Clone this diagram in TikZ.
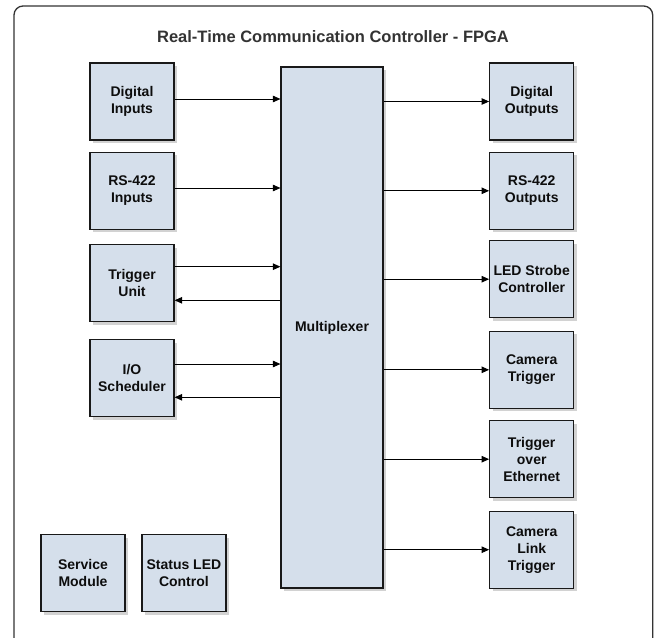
\documentclass[tikz,border=0pt]{standalone}
\usepackage{fontspec}
\setmainfont{Liberation Sans}
\usetikzlibrary{arrows.meta,shadows}

\definecolor{boxfill}{RGB}{213,223,235}
\definecolor{frameline}{RGB}{51,51,51}
\definecolor{titletext}{RGB}{51,51,51}

\tikzset{
  block/.style={draw=black!90, line width=1.2pt, fill=boxfill,
    drop shadow={shadow xshift=3pt, shadow yshift=-3pt, fill=black!35},
    align=center, inner sep=1pt, text=black!95,
    font=\bfseries\fontsize{14}{17}\selectfont},
  unit/.style={block, minimum width=84pt, minimum height=77pt},
  link/.style={line width=0.9pt, -{Triangle[length=7.5pt,width=6.5pt]}}
}

\begin{document}
\begin{tikzpicture}[x=1pt,y=-1pt]
\clip (0,0) rectangle (658,637);
\fill[white] (0,0) rectangle (658,637);

% enclosing FPGA frame (runs past the lower edge)
\draw[frameline, line width=1.3pt, rounded corners=9pt]
  (14,6) rectangle (652.7,680);
\node[text=titletext, font=\bfseries\fontsize{16.5}{19}\selectfont]
  (title) at (333,37) {Real-Time Communication Controller - FPGA};

% central multiplexer
\node[block, minimum width=102pt, minimum height=521pt] (mux) at (332,327.5) {Multiplexer};

% input side
\node[unit] (din)  at (132,101.5) {Digital\\Inputs};
\node[unit] (rsin) at (132,190.7) {RS-422\\Inputs};
\node[unit] (trig) at (132,283.3) {Trigger\\Unit};
\node[unit] (iosc) at (132,378.3) {I/O\\Scheduler};

% output side
\node[unit] (dout)  at (531.7,101.5) {Digital\\Outputs};
\node[unit] (rsout) at (531.7,190.8) {RS-422\\Outputs};
\node[unit] (led)   at (531.7,279.2) {LED Strobe\\Controller};
\node[unit] (cam)   at (531.7,369.8) {Camera\\Trigger};
\node[unit] (eth)   at (531.7,459.2) {Trigger\\over\\Ethernet};
\node[unit] (cl)    at (531.7,549.7) {Camera\\Link\\Trigger};

% stand-alone modules
\node[unit] (svc)  at (83,573.3)  {Service\\Module};
\node[unit] (sled) at (183.9,573.3) {Status LED\\Control};

% inputs into the multiplexer
\draw[link] ([yshift=2.5pt]din.east)  -- ([yshift=2.5pt]din.east -| mux.west);
\draw[link] ([yshift=2.7pt]rsin.east) -- ([yshift=2.7pt]rsin.east -| mux.west);
\draw[link] ([yshift=16.6pt]trig.east) -- ([yshift=16.6pt]trig.east -| mux.west);
\draw[link] ([yshift=-17pt]trig.east -| mux.west) -- ([yshift=-17pt]trig.east);
\draw[link] ([yshift=14.3pt]iosc.east) -- ([yshift=14.3pt]iosc.east -| mux.west);
\draw[link] ([yshift=-19pt]iosc.east -| mux.west) -- ([yshift=-19pt]iosc.east);

% multiplexer to outputs
\draw[link] (dout.west -| mux.east)  -- (dout.west);
\draw[link] (rsout.west -| mux.east) -- (rsout.west);
\draw[link] (led.west -| mux.east)   -- (led.west);
\draw[link] (cam.west -| mux.east)   -- (cam.west);
\draw[link] (eth.west -| mux.east)   -- (eth.west);
\draw[link] (cl.west -| mux.east)    -- (cl.west);
\end{tikzpicture}
\end{document}
